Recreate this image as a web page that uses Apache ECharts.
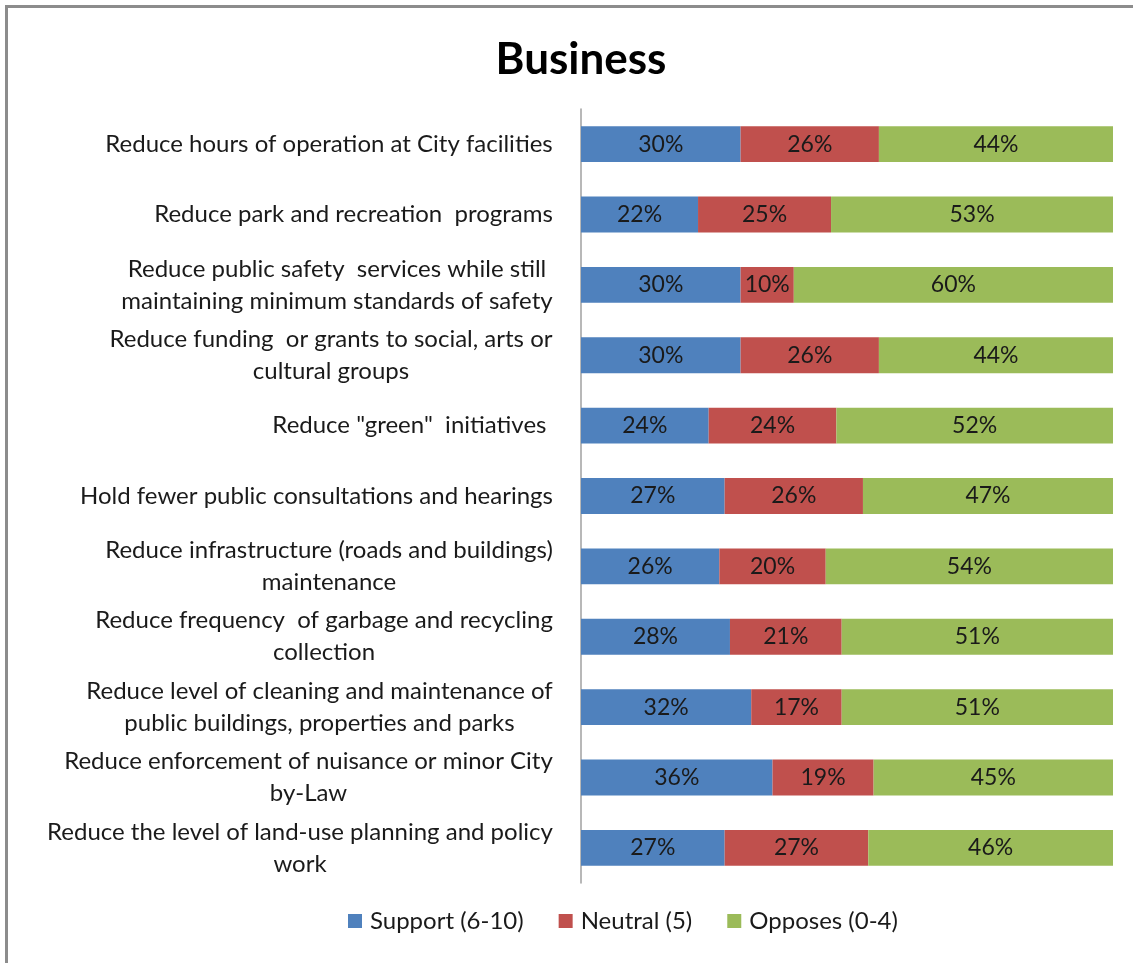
<!DOCTYPE html>
<html>
<head>
<meta charset="utf-8">
<script src="https://cdn.jsdelivr.net/npm/echarts@6/dist/echarts.min.js"></script>
<style>
  html, body { margin: 0; padding: 0; background: #fff; }
  #frame { position: absolute; left: 5px; top: 5px; width: 1200px; height: 1000px;
           border-left: 3px solid #8c8c8c; border-top: 3px solid #8c8c8c; box-sizing: border-box; }
  #chart { position: absolute; left: 0; top: 0; width: 1133px; height: 963px; }
</style>
</head>
<body>
<div id="frame"></div>
<div id="chart"></div>
<script>
// Survey items (top to bottom); "\n" marks where the label wraps
const categories = [
  'Reduce hours of operation at City facilities',
  'Reduce park and recreation  programs',
  'Reduce public safety  services while still\nmaintaining minimum standards of safety',
  'Reduce funding  or grants to social, arts or\ncultural groups',
  'Reduce "green"  initiatives ',
  'Hold fewer public consultations and hearings',
  'Reduce infrastructure (roads and buildings)\nmaintenance',
  'Reduce frequency  of garbage and recycling\ncollection',
  'Reduce level of cleaning and maintenance of\npublic buildings, properties and parks',
  'Reduce enforcement of nuisance or minor City\nby-Law',
  'Reduce the level of land-use planning and policy\nwork'
];
const seriesNames = ['Support (6-10)', 'Neutral (5)', 'Opposes (0-4)'];
const support = [30, 22, 30, 30, 24, 27, 26, 28, 32, 36, 27];
const neutral = [26, 25, 10, 26, 24, 26, 20, 21, 17, 19, 27];
const opposes = [44, 53, 60, 44, 52, 47, 54, 51, 51, 45, 46];

const FONT = 'Lato, "Open Sans", sans-serif';
const LABEL_SIZE = 24;

// Each wrapped label is a block whose lines are centred on one another,
// with the block itself right-aligned against the axis.
const measure = document.createElement('canvas').getContext('2d');
measure.font = LABEL_SIZE + 'px ' + FONT;
const rich = {};
categories.forEach((c, i) => {
  const w = Math.max(...c.split('\n').map(l => measure.measureText(l).width));
  rich['c' + i] = {
    width: Math.ceil(w), align: 'center',
    fontFamily: FONT, fontSize: LABEL_SIZE, lineHeight: 32, color: '#1a1a1a'
  };
});

const colors = ['#4f81bd', '#c0504d', '#9bbb59'];
const values = [support, neutral, opposes];

const chart = echarts.init(document.getElementById('chart'), null, { renderer: 'canvas' });
chart.setOption({
  animation: false,
  backgroundColor: 'transparent',
  color: colors,
  title: {
    text: 'Business', left: 576, top: 33, textAlign: 'center',
    textStyle: { fontFamily: FONT, fontSize: 44, fontWeight: 'bold', color: '#000' }
  },
  legend: {
    data: seriesNames, top: 904, left: 343,
    icon: 'rect', itemWidth: 14, itemHeight: 14, itemGap: 35,
    textStyle: { fontFamily: FONT, fontSize: 24, color: '#1a1a1a', padding: [0, 0, 0, 3] }
  },
  grid: { left: 581, right: 20, top: 109, height: 774, containLabel: false },
  xAxis: {
    type: 'value', min: 0, max: 100, show: false
  },
  yAxis: {
    type: 'category', data: categories, inverse: true,
    axisLine: { show: true, lineStyle: { color: '#a0a0a0', width: 1.5 } },
    axisTick: { show: false },
    axisLabel: {
      margin: 28, align: 'right', rich: rich,
      formatter: (value, idx) => value.split('\n').map(l => '{c' + idx + '|' + l + '}').join('\n')
    }
  },
  series: seriesNames.map((name, k) => ({
    name: name, type: 'bar', stack: 'total', barCategoryGap: '49%',
    data: values[k],
    itemStyle: { color: colors[k] },
    label: {
      show: true, position: 'inside', formatter: '{c}%',
      fontFamily: FONT, fontSize: 23, color: '#1a1a1a'
    }
  }))
});
</script>
</body>
</html>
